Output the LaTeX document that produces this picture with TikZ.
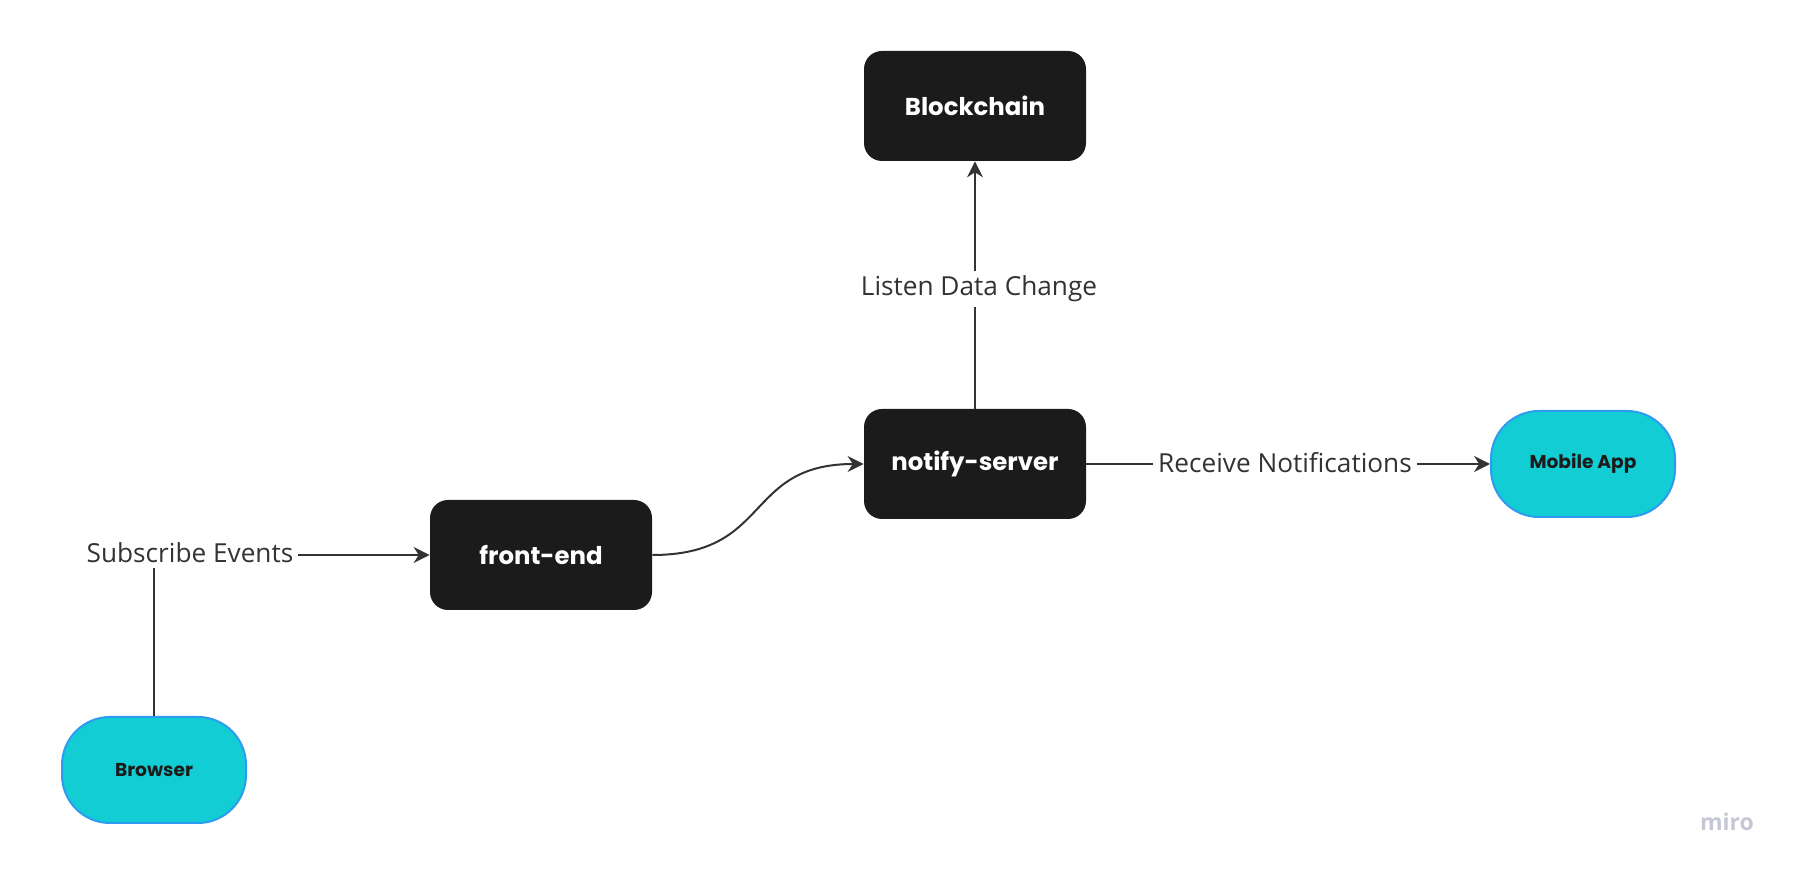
\documentclass[tikz,border=0pt]{standalone}
\usepackage{fontspec}
\setmainfont{Open Sans}
\newfontfamily\boxfont{Poppins}
\usetikzlibrary{arrows.meta}

\definecolor{boxblack}{HTML}{1B1B1B}
\definecolor{appcyan}{HTML}{12CDD4}
\definecolor{appblue}{HTML}{2D9BF0}
\definecolor{linegray}{HTML}{333333}
\definecolor{mirogray}{HTML}{C5C7D6}

\begin{document}
\begin{tikzpicture}[x=0.5pt, y=-0.5pt,
    block/.style = {rectangle, rounded corners=9pt, fill=boxblack, text=white, minimum width=111pt, minimum height=55pt, inner sep=0pt, font=\boxfont\bfseries\fontsize{12.2}{14}\selectfont},
    client/.style = {rectangle, rounded corners=24pt, fill=appcyan, draw=appblue, line width=1pt, text=boxblack, minimum width=92pt, minimum height=53pt, inner sep=0pt, font=\boxfont\bfseries\fontsize{9.3}{12}\selectfont},
    edgetext/.style = {fill=white, text=linegray, inner sep=2.5pt, font=\fontsize{13.1}{16}\selectfont},
    wire/.style = {draw=linegray, line width=1pt, -{Stealth[length=8pt, width=8pt]}}]
            \useasboundingbox (0,0) rectangle (1795,870);

            \node[block] (chain)  at (975,106) {Blockchain};
            \node[block] (notify) at (975,464) {notify-server};
            \node[block] (front)  at (541,555) {front-end};
            \node[client] (browser) at (154,770) {Browser};
            \node[client] (mobile)  at (1583,464) {Mobile App};

            \draw[wire] (notify) -- (chain);
            \draw[wire] (browser) |- (front);
            \draw[wire] (front.east) .. controls +(120,0) and +(-120,0) .. (notify.west);
            \draw[wire] (notify) -- (mobile);

            \node[edgetext] (listen)    at (979,289)  {Listen Data Change};
            \node[edgetext] (subscribe) at (190,553)  {Subscribe Events};
            \node[edgetext] (receive)   at (1285,463) {Receive Notifications};

            \node[text=mirogray, font=\bfseries\fontsize{11.5}{14}\selectfont] (miro) at (1727,822) {miro};
        \end{tikzpicture}
\end{document}
